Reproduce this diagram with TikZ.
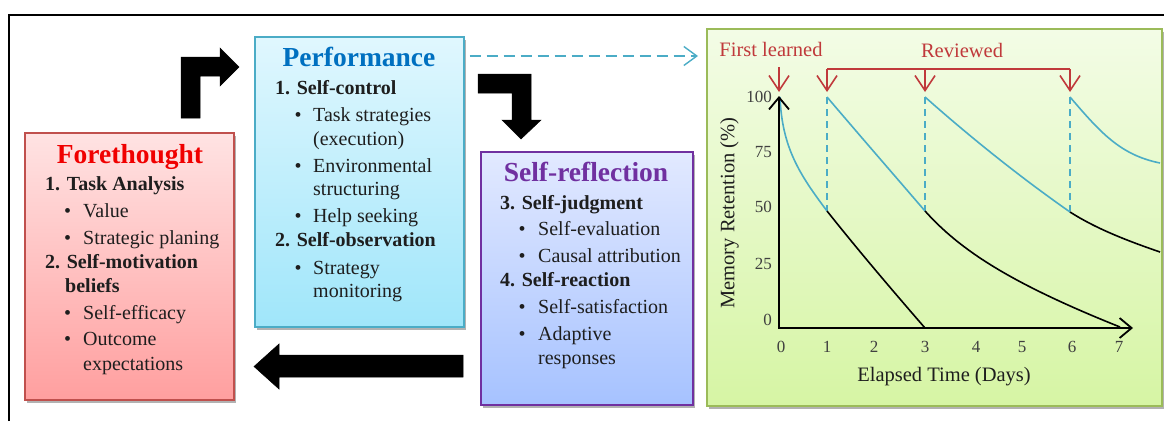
\documentclass[tikz,border=0pt]{standalone}
\usepackage{fontspec}
\setmainfont{Liberation Serif}
\usetikzlibrary{arrows.meta,shadows}
\definecolor{foreB}{HTML}{C0504D}
\definecolor{foreTop}{HTML}{FFE3E3}
\definecolor{foreBot}{HTML}{FF9F9F}
\definecolor{perfB}{HTML}{4BACC6}
\definecolor{perfTop}{HTML}{E0F7FE}
\definecolor{perfBot}{HTML}{A0E6FA}
\definecolor{reflB}{HTML}{7030A0}
\definecolor{reflTop}{HTML}{E2E9FF}
\definecolor{reflBot}{HTML}{A6C2FF}
\definecolor{graphB}{HTML}{9BBB59}
\definecolor{graphTop}{HTML}{F3FCE6}
\definecolor{graphBot}{HTML}{D6F5A4}
\definecolor{curveblue}{HTML}{4BACC6}
\definecolor{titleblue}{HTML}{0070C0}
\definecolor{titlered}{HTML}{F00000}
\definecolor{txt}{HTML}{1E1E1E}
\definecolor{annot}{HTML}{C0393B}
\newcommand\bodyfnt{\fontsize{20}{24}\selectfont}
\newcommand\titlefnt{\fontsize{27.5}{30}\selectfont\bfseries}
\tikzset{
  panel/.style={draw, line width=1.6pt, anchor=north west, inner sep=0pt,
    drop shadow={shadow xshift=2pt, shadow yshift=-3pt, opacity=0.3, fill=black}},
  ln/.style={anchor=west, inner sep=0pt, text height=.66em, text depth=.2em, font=\bodyfnt, text=txt},
  hd/.style={ln, font=\bodyfnt\bfseries},
  ttl/.style={inner sep=0pt, text height=.66em, text depth=.2em, font=\titlefnt},
  blockarrow/.style={fill=black, draw=black, line width=0.5pt},
  axisline/.style={line width=1.8pt, black},
  curveb/.style={line width=1.6pt, curveblue},
  curvek/.style={line width=1.6pt, black},
  guide/.style={line width=1.3pt, curveblue, dash pattern=on 7pt off 5pt},
  annotarrow/.style={line width=1.6pt, annot, -{Straight Barb[length=15pt,width=20pt,line width=1.6pt]}},
  tick/.style={inner sep=0pt, font=\fontsize{17}{20}\selectfont, text=txt!85, text height=.66em, text depth=.2em},
  axlabel/.style={inner sep=0pt, font=\fontsize{20.5}{24}\selectfont, text=txt, text height=.66em, text depth=.2em},
}
\begin{document}
\begin{tikzpicture}[x=1pt,y=-1pt]
\useasboundingbox (0,0) rectangle (1164,421);
% outer frame
\draw[line width=2pt] (9,421) -- (9,15) -- (1164,15);

% panels
\node[panel, draw=foreB, top color=foreTop, bottom color=foreBot, minimum width=209pt, minimum height=267pt] (fore) at (24,132) {};
\node[panel, draw=perfB, top color=perfTop, bottom color=perfBot, minimum width=209pt, minimum height=290pt] (perf) at (254,36) {};
\node[panel, draw=reflB, top color=reflTop, bottom color=reflBot, minimum width=212pt, minimum height=253pt] (refl) at (480,151) {};
\node[panel, draw=graphB, top color=graphTop, bottom color=graphBot, minimum width=455pt, minimum height=377pt] (graph) at (706,28) {};

% Forethought text
\node[ttl, text=titlered] (foreT) at (130,161) {Forethought};
\node[hd] (f1) at (45,188) {1. Task Analysis};
\node[ln] (f1ab) at (64,215) {\textbullet};
\node[ln] (f1a) at (83,215) {Value};
\node[ln] (f1bb) at (64,242) {\textbullet};
\node[ln] (f1b) at (83,242) {Strategic planing};
\node[hd] (f2) at (45,266) {2. Self-motivation};
\node[hd] (f2c) at (65,290) {beliefs};
\node[ln] (f2ab) at (64,317) {\textbullet};
\node[ln] (f2a) at (83,317) {Self-efficacy};
\node[ln] (f2bb) at (64,343) {\textbullet};
\node[ln] (f2b) at (83,343) {Outcome};
\node[ln] (f2bc) at (83,368) {expectations};

% Performance text
\node[ttl, text=titleblue] (perfT) at (359,64) {Performance};
\node[hd] (p1) at (275,92) {1. Self-control};
\node[ln] (p1ab) at (294.5,119) {\textbullet};
\node[ln] (p1a) at (313,119) {Task strategies};
\node[ln] (p1ac) at (313,143) {(execution)};
\node[ln] (p1bb) at (294.5,170) {\textbullet};
\node[ln] (p1b) at (313,170) {Environmental};
\node[ln] (p1bc) at (313,193) {structuring};
\node[ln] (p1cb) at (294.5,220) {\textbullet};
\node[ln] (p1c) at (313,220) {Help seeking};
\node[hd] (p2) at (275,244) {2. Self-observation};
\node[ln] (p2ab) at (294.5,272) {\textbullet};
\node[ln] (p2a) at (313,272) {Strategy};
\node[ln] (p2ac) at (313,295) {monitoring};

% Self-reflection text
\node[ttl, text=reflB] (reflT) at (586,179) {Self-reflection};
\node[hd] (r3) at (500,207) {3. Self-judgment};
\node[ln] (r3ab) at (518.5,233) {\textbullet};
\node[ln] (r3a) at (538,233) {Self-evaluation};
\node[ln] (r3bb) at (518.5,260) {\textbullet};
\node[ln] (r3b) at (538,260) {Causal attribution};
\node[hd] (r4) at (500,284) {4. Self-reaction};
\node[ln] (r4ab) at (518.5,311) {\textbullet};
\node[ln] (r4a) at (538,311) {Self-satisfaction};
\node[ln] (r4bb) at (518.5,338) {\textbullet};
\node[ln] (r4b) at (538,338) {Adaptive};
\node[ln] (r4bc) at (538,362) {responses};

% block arrows between phases
\path[blockarrow] (181,118) -- (181,57) -- (220,57) -- (220,48) -- (239,67) -- (220,86) -- (220,76) -- (200,76) -- (200,118) -- cycle;
\path[blockarrow] (478,74) -- (531,74) -- (531,120) -- (541,120) -- (521,139) -- (502,120) -- (512,120) -- (512,93) -- (478,93) -- cycle;
\path[blockarrow] (463,355) -- (279,355) -- (279,344) -- (254,366.5) -- (279,389) -- (279,377) -- (463,377) -- cycle;

% dashed connector performance -> graph
\draw[line width=1.4pt, curveblue, dash pattern=on 11pt off 6pt,
  -{Straight Barb[length=13pt,width=19pt,line width=1.4pt]}]
  ([xshift=5pt,yshift=-20pt]perf.north east) -- ([xshift=-8pt,yshift=-28pt]graph.north west);

% graph
\coordinate (O) at (779,328);
\coordinate (ytop) at (779,96);
\coordinate (xend) at (1133,328);

% guides
\draw[guide] (827,97) -- (827,211);
\draw[guide] (925,97) -- (925,211);
\draw[guide] (1070,97) -- (1070,211);

% curves
\draw[curveb] (780,97) .. controls (782,148) and (800,175) .. (827,211);
\draw[curvek] (827,211) .. controls (858,250) and (892,290) .. (925,328);
\draw[curveb] (827,97) .. controls (855,130) and (888,168) .. (925,211);
\draw[curvek] (925,211) .. controls (960,250) and (1010,283) .. (1120,327);
\draw[curveb] (925,97) .. controls (960,128) and (1010,170) .. (1070,212);
\draw[curvek] (1070,212) .. controls (1095,228) and (1125,240) .. (1160,252);
\draw[curveb] (1070,97) .. controls (1100,132) and (1120,155) .. (1160,163);

% axes
\draw[axisline, {Straight Barb[length=12pt,width=20pt,line width=1.8pt]}-{Straight Barb[length=12pt,width=20pt,line width=1.8pt]}] (ytop) -- (O) -- (xend);

% ticks
\foreach \v/\yy in {100/100, 75/155, 50/210, 25/267, 0/323}
  \node[tick, anchor=east] (yt\v) at (772,\yy) {\v};
\foreach \d/\xx in {0/781, 1/827, 2/874, 3/925, 4/976, 5/1022, 6/1072, 7/1119}
  \node[tick] (xt\d) at (\xx,350) {\d};

\node[axlabel, rotate=90] (ylab) at (732,213) {Memory Retention (\%)};
\node[axlabel] (xlab) at (944,379) {Elapsed Time (Days)};

% annotations
\node[axlabel, text=annot] (first) at (771,54) {First learned};
\node[axlabel, text=annot] (rev) at (962,55) {Reviewed};
\coordinate (a0) at (779,67);
\coordinate (a0t) at (779,92);
\coordinate (b1) at (827,69);
\coordinate (b2) at (925,69);
\coordinate (b3) at (1070,69);
\draw[annotarrow] (a0) -- (a0t);
\draw[line width=1.6pt, annot] (b1) -- (b3);
\draw[annotarrow] (b1) -- (827,92);
\draw[annotarrow] (b2) -- (925,92);
\draw[annotarrow] (b3) -- (1070,92);
\end{tikzpicture}
\end{document}
